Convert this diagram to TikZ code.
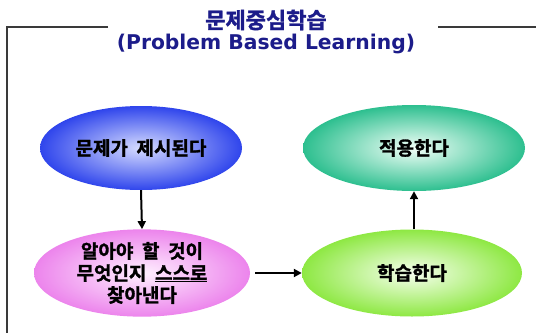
\documentclass[tikz,border=0pt]{standalone}
\usepackage{fontspec}
\setmainfont{Noto Sans CJK KR}[BoldFont={Noto Sans CJK KR Bold}, BoldFeatures={FakeBold=1.5}, WordSpace=2]
\newfontfamily\latinbold{DejaVu Sans}
\usetikzlibrary{shapes.geometric,arrows.meta}
\definecolor{titleblue}{HTML}{1C1C8A}
\definecolor{framegray}{HTML}{3A3A3A}
\definecolor{blueedge}{HTML}{2F45EC}
\definecolor{bluecore}{HTML}{D6DCFF}
\definecolor{pinkedge}{HTML}{EC84EC}
\definecolor{pinkcore}{HTML}{FFF0FF}
\definecolor{tealedge}{HTML}{2DBF8F}
\definecolor{tealcore}{HTML}{F2FFF8}
\definecolor{greenedge}{HTML}{8EE843}
\definecolor{greencore}{HTML}{F6FFEE}
\tikzset{
  bubble/.style={ellipse, minimum width=#1, inner sep=0pt, align=center,
    font=\fontsize{19}{22}\selectfont\bfseries, text=black, shading=radial},
  flow/.style={line width=2pt, -{Triangle[length=8pt,width=8pt]}},
  frameline/.style={draw=framegray, line width=1.2pt}
}
\begin{document}
\begin{tikzpicture}[x=1pt,y=-1pt]
  \useasboundingbox (0,0) rectangle (536,333);
  \fill[white] (0,0) rectangle (536,333);

  % open frame around the chart, broken by the heading
  \coordinate (fl) at (7,27);
  \coordinate (fm) at (108,27);
  \coordinate (fr) at (438,27);
  \coordinate (fe) at (536,27);
  \coordinate (fb) at (7,333);
  \draw[frameline] (fm) -- (fl) -- (fb);
  \draw[frameline] (fr) -- (fe);

  % heading
  \node[text=titleblue, font=\fontsize{22}{24}\selectfont\bfseries] (title) at (266,20) {문제중심학습};
  \node[text=titleblue, font=\fontsize{20.3}{24}\selectfont\latinbold\bfseries] (subtitle) at (266,44) {(Problem Based Learning)};

  % stages
  \node[bubble=202pt, minimum height=84pt, inner color=bluecore, outer color=blueedge] (problem) at (141,148) {문제가 제시된다};
  \node[bubble=216pt, minimum height=86pt, inner color=pinkcore, outer color=pinkedge] (find) at (142,273)
    {알아야 할 것이\\무엇인지 \underline{스스로}\\찾아낸다};
  \node[bubble=222pt, minimum height=86pt, inner color=tealcore, outer color=tealedge] (apply) at (414,148) {적용한다};
  \node[bubble=220pt, minimum height=87pt, inner color=greencore, outer color=greenedge] (learn) at (412,273) {학습한다};

  % flow between stages
  \draw[flow] (problem.south) -- (find.north);
  \draw[flow, shorten <=5pt] (find.east) -- (learn.west);
  \draw[flow] (learn.north -| apply.south) -- (apply.south);
\end{tikzpicture}
\end{document}
